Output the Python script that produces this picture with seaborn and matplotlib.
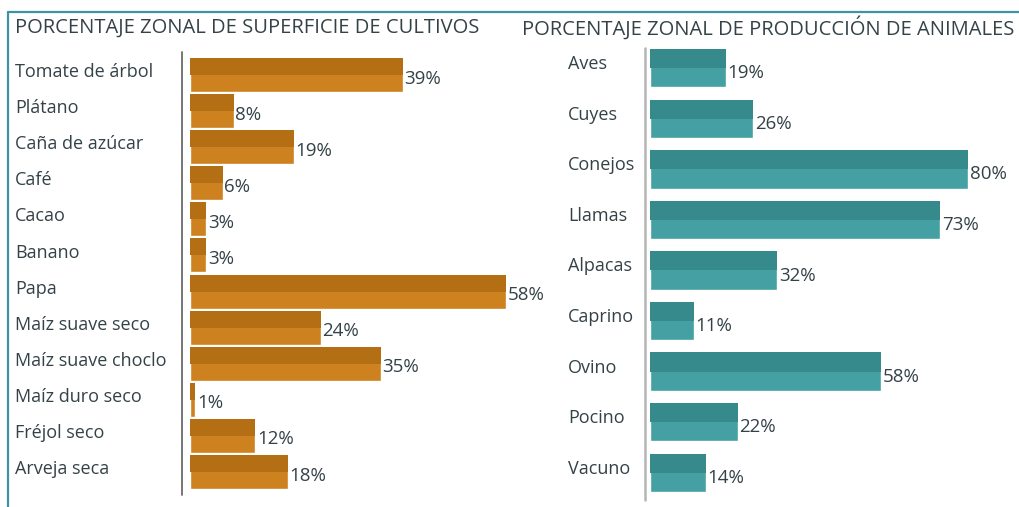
import matplotlib
matplotlib.use("Agg")
import numpy as np
import matplotlib.pyplot as plt
import matplotlib.transforms as mtransforms
from matplotlib.lines import Line2D
import seaborn as sns

# data
crops = ["Tomate de árbol", "Plátano", "Caña de azúcar", "Café", "Cacao", "Banano",
         "Papa", "Maíz suave seco", "Maíz suave choclo", "Maíz duro seco",
         "Fréjol seco", "Arveja seca"]
crop_pct = [39, 8, 19, 6, 3, 3, 58, 24, 35, 1, 12, 18]

animals = ["Aves", "Cuyes", "Conejos", "Llamas", "Alpacas", "Caprino",
           "Ovino", "Pocino", "Vacuno"]
animal_pct = [19, 26, 80, 73, 32, 11, 58, 22, 14]

TEXT = "#344247"
sns.set_theme(style="white")
plt.rcParams["font.family"] = ["Open Sans", "DejaVu Sans"]

W, H = 1020, 507
fig = plt.figure(figsize=(W / 100, H / 100), dpi=100)
fig.patch.set_facecolor("white")


def px_box(x0, y0, x1, y1):
    return [x0 / W, 1 - y1 / H, (x1 - x0) / W, (y1 - y0) / H]


def draw_panel(ax, cats, vals, light, dark, height, xmax, label_x, fontsize):
    sns.barplot(x=vals, y=cats, orient="h", color=light, width=height,
                saturation=1, ax=ax)
    pos = np.arange(len(cats))
    # darker upper half gives the bars their bevelled look
    ax.barh(pos - height / 4, vals, height=height / 2, color=dark, linewidth=0)
    ax.set_xlim(0, xmax)
    ax.set_ylim(len(cats) - 0.5, -0.5)
    ax.axis("off")
    trans = mtransforms.blended_transform_factory(fig.transFigure, ax.transData)
    for i, (c, v) in enumerate(zip(cats, vals)):
        ax.text(label_x / W, i - 0.08, c, transform=trans, ha="left", va="center",
                fontsize=fontsize, color=TEXT)
        ax.text(v + xmax * 0.005, i + 0.1, f"{v}%", ha="left", va="center",
                fontsize=fontsize + 0.5, color=TEXT)


ax1 = fig.add_axes(px_box(190, 57, 517, 490))
draw_panel(ax1, crops, crop_pct, "#cd811f", "#b46f14", 0.94, 60, 15, 13)

ax2 = fig.add_axes(px_box(650, 43, 1008, 498))
draw_panel(ax2, animals, animal_pct, "#44a0a2", "#378a8c", 0.76, 90, 568, 13)

# titles
fig.text(15 / W, 1 - 28 / H, "PORCENTAJE ZONAL DE SUPERFICIE DE CULTIVOS",
         ha="left", va="center", fontsize=14.5, color=TEXT)
fig.text(522 / W, 1 - 28 / H, "PORCENTAJE ZONAL DE PRODUCCIÓN DE ANIMALES",
         ha="left", va="center", fontsize=14.5, color=TEXT)

# axis lines and frame
fig.add_artist(Line2D([182 / W, 182 / W], [1 - 52 / H, 1 - 495 / H],
                      color="#6b6b6b", linewidth=1.3))
fig.add_artist(Line2D([645 / W, 645 / W], [1 - 48 / H, 1 - 500 / H],
                      color="#b5b5b5", linewidth=1.8))
fig.add_artist(Line2D([8 / W, 1.0], [1 - 12 / H, 1 - 12 / H],
                      color="#3f93a6", linewidth=1.6))
fig.add_artist(Line2D([8 / W, 8 / W], [1 - 12 / H, 0], color="#3f93a6",
                      linewidth=1.6))

fig.savefig("out.png", dpi=100)
